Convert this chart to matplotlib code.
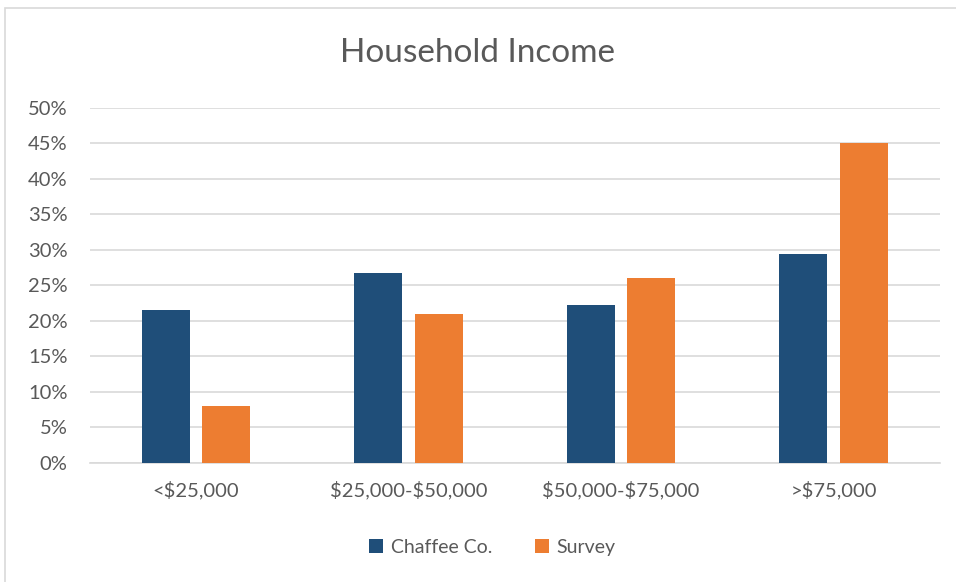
import numpy as np
import matplotlib.pyplot as plt
from matplotlib.patches import Rectangle
from matplotlib.ticker import PercentFormatter

categories = ['<$25,000', '$25,000-$50,000', '$50,000-$75,000', '>$75,000']
chaffee = [21.5, 26.8, 22.2, 29.4]
survey = [8.0, 21.0, 26.0, 45.0]

plt.rcParams['font.family'] = ['Lato', 'DejaVu Sans']
plt.rcParams['text.parse_math'] = False
grey = '#595959'

fig = plt.figure(figsize=(9.56, 5.82), dpi=100)
ax = fig.add_axes([0.094, 0.2045, 0.889, 0.61])

x = np.arange(len(categories))
w = 0.226
ax.bar(x - 0.143, chaffee, w, color='#1f4e79', label='Chaffee Co.', zorder=3)
ax.bar(x + 0.143, survey, w, color='#ed7d31', label='Survey', zorder=3)

ax.set_xlim(-0.5, 3.5)
ax.set_ylim(0, 50)
ax.set_yticks(np.arange(0, 51, 5))
ax.yaxis.set_major_formatter(PercentFormatter(decimals=0))
ax.set_xticks(x)
ax.set_xticklabels(categories)
ax.grid(axis='y', color='#d9d9d9', linewidth=1.2, zorder=0)
for s in ['top', 'right', 'left']:
    ax.spines[s].set_visible(False)
ax.spines['bottom'].set_color('#d9d9d9')
ax.spines['bottom'].set_linewidth(1.2)
ax.tick_params(length=0, colors=grey, labelsize=14.5)
ax.tick_params(axis='x', pad=13)
ax.tick_params(axis='y', pad=16)

fig.text(0.5, 0.909, 'Household Income', ha='center', va='center', fontsize=24, color=grey)
fig.legend(loc='center', bbox_to_anchor=(0.515, 0.06), ncol=2, frameon=False,
           fontsize=14, labelcolor=grey, handlelength=0.7, handleheight=0.7,
           handletextpad=0.4, columnspacing=2.2)

fig.patches.append(Rectangle((5 / 956, -0.01), 1.0, 1 - 8 / 582 + 0.01, transform=fig.transFigure,
                             fill=False, edgecolor='#d9d9d9', linewidth=1.2))

fig.savefig('out.png', dpi=100)
